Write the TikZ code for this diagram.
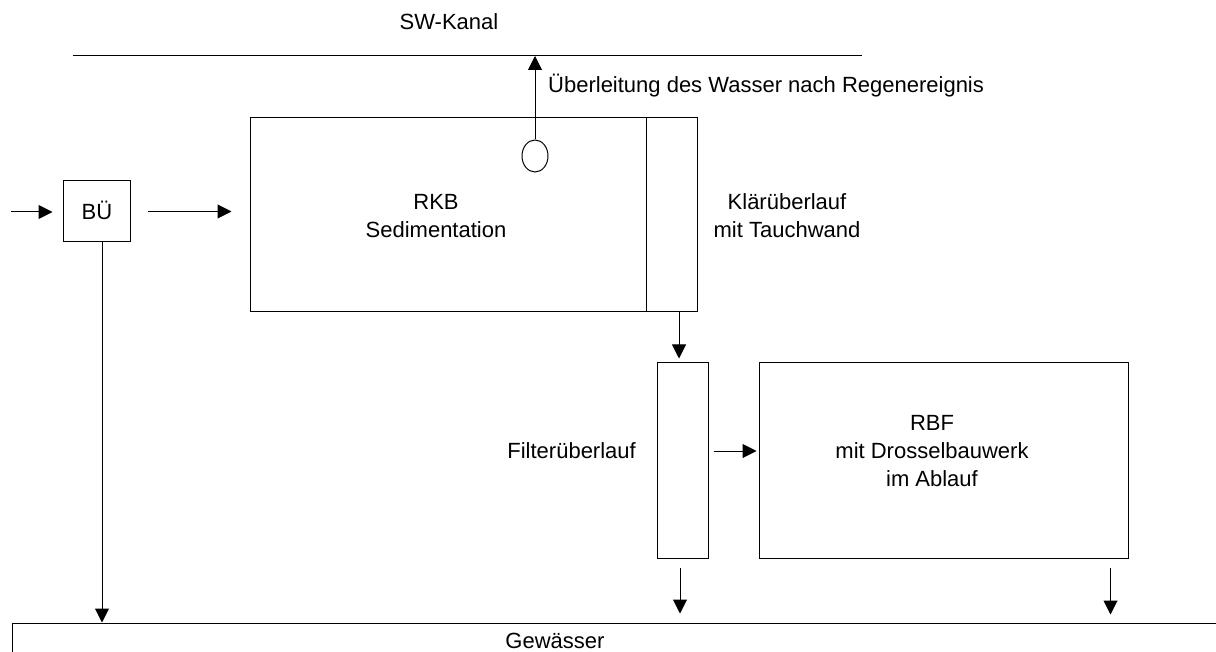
\documentclass[tikz,border=0pt]{standalone}
\usepackage{fontspec}
\setmainfont{Liberation Sans}
\usetikzlibrary{arrows.meta,shapes.geometric,calc}
\begin{document}
\begin{tikzpicture}[x=1pt,y=-1pt,
  box/.style={draw,line width=1pt,rectangle,inner sep=0pt},
  lbl/.style={inner sep=0pt,font=\fontsize{22}{28}\selectfont,align=center},
  arr/.style={line width=1pt,-{Triangle[length=14pt,width=14pt]}},
  ln/.style={line width=1pt}]
\useasboundingbox (0,0) rectangle (1216,652);
\clip (0,0) rectangle (1216,652);
% boxes
\node[box,minimum width=67pt,minimum height=61pt] (bue) at (96.5,211.5) {};
\node[box,minimum width=396pt,minimum height=194pt] (rkb) at (448,215) {};
\node[box,minimum width=51pt,minimum height=194pt] (klaer) at (671.5,215) {};
\node[box,minimum width=51pt,minimum height=195pt] (filter) at (682.5,460.5) {};
\node[box,minimum width=369pt,minimum height=195pt] (rbf) at (943.5,460.5) {};
\node[box,minimum width=1228pt,minimum height=77pt] (gew) at (626,661.5) {};
\node[draw,line width=1pt,ellipse,inner sep=0pt,minimum width=26pt,minimum height=32pt] (pump) at (535,156) {};
% texts
\node[lbl] (tsw) at (449,22) {SW-Kanal};
\node[lbl,anchor=base west] (tuber) at (548,93) {Überleitung des Wasser nach Regenereignis};
\node[lbl,anchor=base] (tbue) at (97,219.5) {BÜ};
\node[lbl] (trkb) at (436,216) {RKB\\Sedimentation};
\node[lbl] (tklaer) at (787,216) {Klärüberlauf\\mit Tauchwand};
\node[lbl,anchor=east] (tfil) at (636,451) {Filterüberlauf};
\node[lbl] (trbf) at (932,451) {RBF\\mit Drosselbauwerk\\im Ablauf};
\node[lbl,anchor=base] (tgew) at (555,648) {Gewässer};
% SW-Kanal line
\coordinate (swl) at (73,56);
\coordinate (swr) at (862,56);
\draw[ln] (swl) -- (swr);
% connectors
\coordinate (in) at (11,212);
\draw[arr,shorten >=10pt] (in) -- (in -| bue.west);
\draw[arr,shorten <=17pt,shorten >=18pt] (bue.east) -- (bue.east -| rkb.west);
\draw[arr] ([xshift=5.5pt]bue.south) -- ([xshift=5.5pt]bue.south |- gew.north);
\draw[arr] (pump.north) -- (pump.north |- swl);
\draw[arr,shorten >=4pt] ([xshift=7.5pt]klaer.south) -- ([xshift=7.5pt]klaer.south |- filter.north);
\draw[arr,shorten <=5pt,shorten >=2pt] (filter.east |- tfil.east) -- (rbf.west |- tfil.east);
\draw[arr,shorten <=9pt,shorten >=9pt] ([xshift=-2.5pt]filter.south) -- ([xshift=-2.5pt]filter.south |- gew.north);
\draw[arr,shorten <=9pt,shorten >=8pt] ([xshift=-18pt]rbf.south east) -- ([xshift=-18pt]rbf.south east |- gew.north);
\end{tikzpicture}
\end{document}
